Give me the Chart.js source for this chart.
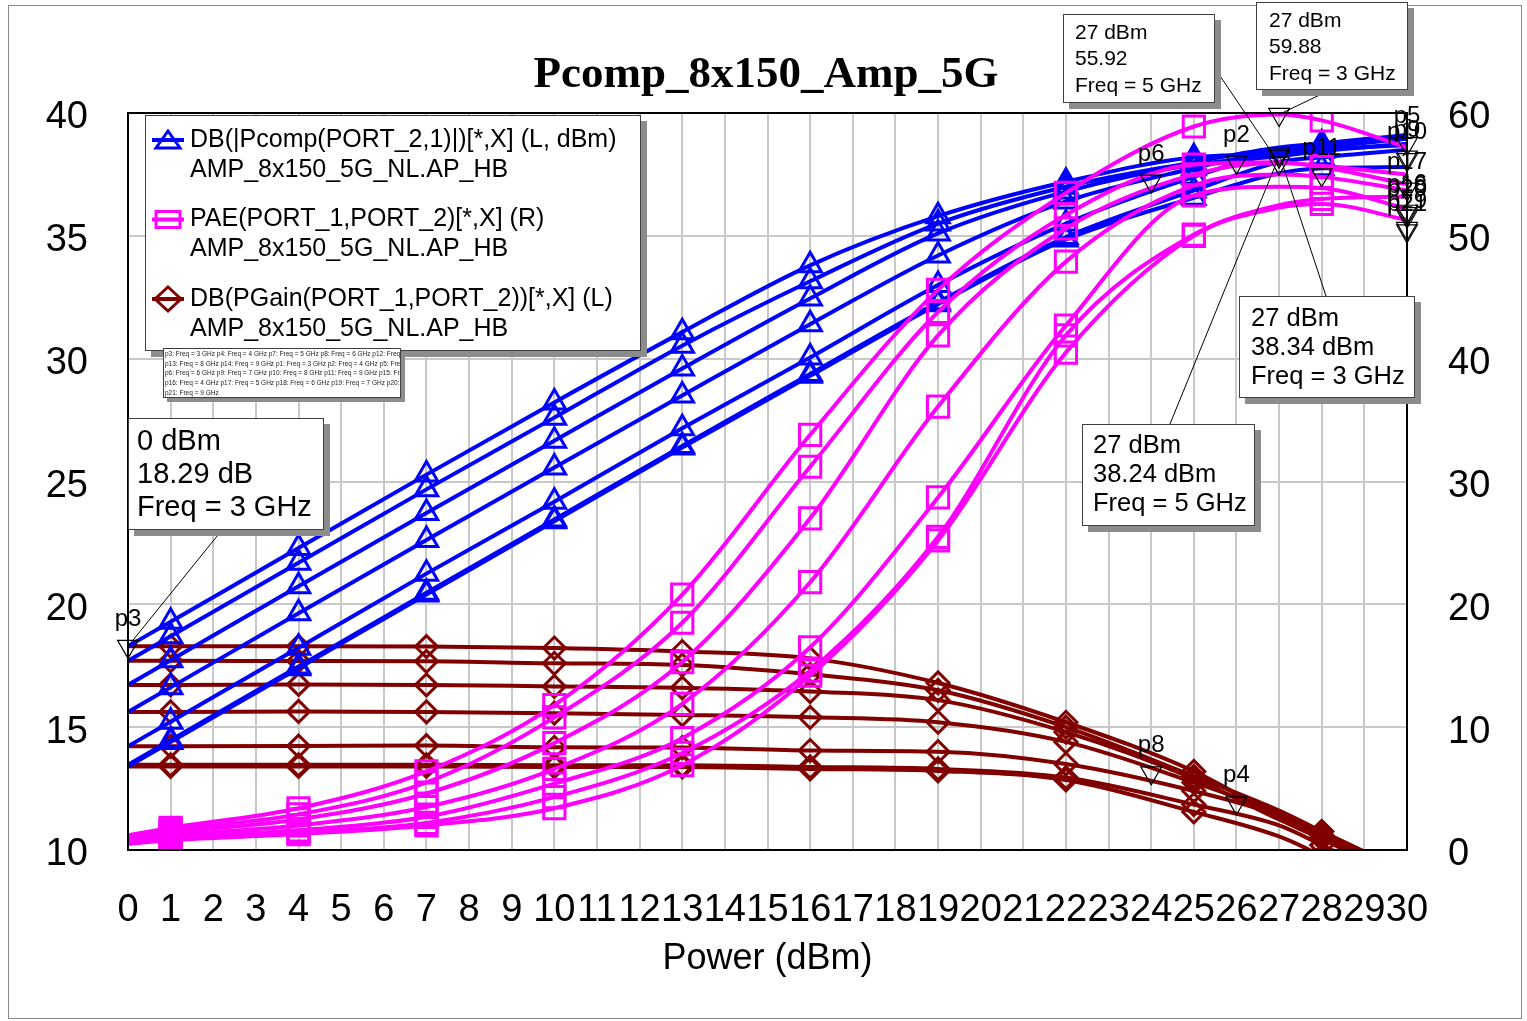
<!DOCTYPE html>
<html>
<head>
<meta charset="utf-8">
<title>Pcomp_8x150_Amp_5G</title>
<script src="https://cdn.jsdelivr.net/npm/chart.js@4.4.1/dist/chart.umd.min.js"></script>
<style>
  html, body { margin: 0; padding: 0; background: #ffffff; }
  #wrap { position: relative; width: 1527px; height: 1021px; }
  canvas { display: block; }
</style>
</head>
<body>
<div id="wrap"><canvas id="chart" width="1527" height="1021"></canvas></div>
<script>
// ---- swept input power (dBm) and frequencies ----
const powerIn = [0, 1, 4, 7, 10, 13, 16, 19, 22, 25, 27, 28, 30];
const symbolPower = [1, 4, 7, 10, 13, 16, 19, 22, 25, 28];
const freqs = ['3 GHz', '4 GHz', '5 GHz', '6 GHz', '7 GHz', '8 GHz', '9 GHz'];

// ---- output power DB(|Pcomp|) in dBm, left axis ----
const pout3G = [18.29, 19.29, 22.29, 25.28, 28.22, 31.08, 33.80, 35.80, 37.20, 38.20, 38.34, 38.50, 38.70];
const pout4G = [17.70, 18.70, 21.69, 24.68, 27.60, 30.53, 33.15, 35.50, 37.00, 38.00, 38.60, 38.75, 39.00];
const pout5G = [16.72, 17.72, 20.74, 23.72, 26.66, 29.60, 32.45, 35.10, 36.80, 37.90, 38.24, 38.45, 38.75];
const pout6G = [15.62, 16.62, 19.64, 22.62, 25.57, 28.50, 31.40, 34.20, 36.40, 37.75, 38.50, 38.75, 39.10];
const pout7G = [14.22, 15.22, 18.23, 21.25, 24.18, 27.17, 30.05, 33.00, 35.50, 37.40, 38.40, 38.60, 38.95];
const pout8G = [13.47, 14.47, 17.47, 20.47, 23.45, 26.45, 29.38, 32.30, 34.95, 36.85, 38.00, 38.20, 38.50];
const pout9G = [13.40, 14.40, 17.40, 20.40, 23.38, 26.38, 29.30, 32.22, 34.85, 36.55, 37.55, 37.75, 37.80];

// ---- PAE in %, right axis ----
const pae3G = [1.2, 1.8, 3.4, 6.4, 11.8, 20.8, 33.8, 45.6, 53.5, 58.9, 59.88, 59.4, 57.2];
const pae4G = [1.0, 1.6, 2.9, 5.5, 10.8, 18.5, 31.2, 43.8, 51.7, 55.8, 56.0, 55.6, 54.2];
const pae5G = [0.9, 1.4, 2.5, 4.6, 8.7, 15.3, 27.0, 41.9, 50.6, 55.0, 55.92, 55.7, 55.0];
const pae6G = [0.8, 1.2, 2.0, 3.5, 6.6, 11.9, 21.8, 36.1, 47.9, 54.1, 55.0, 54.8, 53.7];
const pae7G = [0.6, 1.0, 1.6, 2.7, 5.4, 9.1, 16.5, 28.7, 42.7, 53.3, 54.0, 53.9, 52.2];
const pae8G = [0.5, 0.9, 1.4, 2.2, 4.3, 7.9, 14.6, 25.5, 41.9, 50.1, 52.5, 53.0, 53.2];
const pae9G = [0.5, 0.8, 1.3, 2.0, 3.4, 6.9, 14.2, 25.2, 40.5, 50.0, 52.3, 52.6, 51.3];

// ---- power gain DB(PGain) in dB, left axis ----
const gain3G = [18.29, 18.29, 18.29, 18.28, 18.22, 18.08, 17.80, 16.80, 15.20, 13.20, 11.34, 10.50, 8.70];
const gain4G = [17.70, 17.70, 17.69, 17.68, 17.60, 17.53, 17.15, 16.50, 15.00, 13.00, 11.60, 10.75, 9.00];
const gain5G = [16.72, 16.72, 16.74, 16.72, 16.66, 16.60, 16.45, 16.10, 14.80, 12.90, 11.24, 10.45, 8.75];
const gain6G = [15.62, 15.62, 15.64, 15.62, 15.57, 15.50, 15.40, 15.20, 14.40, 12.75, 11.50, 10.75, 9.10];
const gain7G = [14.22, 14.22, 14.23, 14.25, 14.18, 14.17, 14.05, 14.00, 13.50, 12.40, 11.40, 10.60, 8.95];
const gain8G = [13.47, 13.47, 13.47, 13.47, 13.45, 13.45, 13.38, 13.30, 12.95, 11.85, 11.00, 10.20, 8.50];
const gain9G = [13.40, 13.40, 13.40, 13.40, 13.38, 13.38, 13.30, 13.22, 12.85, 11.55, 10.55, 9.75, 7.80];

// ---- markers ----
const gainMarkX = [0, 24, 26];
const gainMarkVal = [18.29, 13.14, 11.92];
const gainMarkName = ['p3', 'p8', 'p4'];
const poutMarkX = [26, 24, 28, 30, 30, 30];
const poutMarkVal = [38.0, 37.23, 37.48, 38.75, 38.2, 38.1];
const poutMarkName = ['p2', 'p6', 'p11', 'p5', 'p9', 'p10'];
const paeMarkX = [30, 30, 30, 30, 30, 30];
const paeMarkVal = [53.8, 52.0, 51.8, 51.6, 50.6, 50.4];
const paeMarkName = ['p17', 'p16', 'p18', 'p20', 'p19', 'p21'];
// readouts shown in boxes
const poutReadX = [27, 27];
const poutReadVal = [38.34, 38.24];
const poutReadFreq = ['3 GHz', '5 GHz'];
const paeReadX = [27, 27];
const paeReadVal = [59.88, 55.92];
const paeReadFreq = ['3 GHz', '5 GHz'];

// ---- axes ----
const xTicks = { min: 0, max: 30, step: 1 };
const leftTicks = { min: 10, max: 40, step: 5 };
const rightTicks = { min: 0, max: 60, step: 10 };

const TITLE = 'Pcomp_8x150_Amp_5G';
const FONT = "'Liberation Sans', Arial, Helvetica, sans-serif";
const SERIF = "'Liberation Serif', 'Times New Roman', Times, serif";
const BLUE = '#0000ff', MAGENTA = '#ff00ff', MAROON = '#800000';

const legendRows = [
  { color: BLUE, symbol: 'triangle', lines: ['DB(|Pcomp(PORT_2,1)|)[*,X] (L, dBm)', 'AMP_8x150_5G_NL.AP_HB'] },
  { color: MAGENTA, symbol: 'rect', lines: ['PAE(PORT_1,PORT_2)[*,X] (R)', 'AMP_8x150_5G_NL.AP_HB'] },
  { color: MAROON, symbol: 'diamond', lines: ['DB(PGain(PORT_1,PORT_2))[*,X] (L)', 'AMP_8x150_5G_NL.AP_HB'] }
];
const markerListLines = [
  'p3: Freq = 3 GHz p4: Freq = 4 GHz p7: Freq = 5 GHz p8: Freq = 6 GHz p12: Freq = 7 GHz',
  'p13: Freq = 8 GHz p14: Freq = 9 GHz p1: Freq = 3 GHz p2: Freq = 4 GHz p5: Freq = 5 GHz',
  'p6: Freq = 6 GHz p9: Freq = 7 GHz p10: Freq = 8 GHz p11: Freq = 9 GHz p15: Freq = 3 GHz',
  'p16: Freq = 4 GHz p17: Freq = 5 GHz p18: Freq = 6 GHz p19: Freq = 7 GHz p20: Freq = 8 GHz',
  'p21: Freq = 9 GHz'
];

function series(vals) { return powerIn.map((x, i) => ({ x: x, y: vals[i] })); }
function points(xs, ys) { return xs.map((x, i) => ({ x: x, y: ys[i] })); }
function symbolRadius(r) {
  return ctx => (ctx.raw && symbolPower.includes(ctx.raw.x)) ? r : 0;
}

const datasets = [];

function markerSet(id, xs, ys, names, axis) {
  return {
    label: id, markerId: id, markerNames: names,
    data: points(xs, ys), yAxisID: axis, showLine: false,
    pointStyle: 'triangle', pointRotation: 180, pointRadius: 12,
    pointBorderColor: '#000000', pointBorderWidth: 1.2,
    pointBackgroundColor: 'rgba(0,0,0,0)', clip: false, order: 0
  };
}
datasets.push(markerSet('gainMarks', gainMarkX, gainMarkVal, gainMarkName, 'y'));
datasets.push(markerSet('poutMarks', poutMarkX, poutMarkVal, poutMarkName, 'y'));
datasets.push(markerSet('paeMarks', paeMarkX, paeMarkVal, paeMarkName, 'y2'));
datasets.push(markerSet('poutRead', poutReadX, poutReadVal, null, 'y'));
datasets.push(markerSet('paeRead', paeReadX, paeReadVal, null, 'y2'));

function curve(label, vals, color, style, r, axis, order) {
  return {
    label: label, data: series(vals), yAxisID: axis,
    borderColor: color, borderWidth: 4, fill: false,
    cubicInterpolationMode: 'monotone',
    pointStyle: style, pointRadius: symbolRadius(r),
    pointBorderColor: color, pointBorderWidth: 3,
    pointBackgroundColor: 'rgba(0,0,0,0)', order: order
  };
}
[pae3G, pae4G, pae5G, pae6G, pae7G, pae8G, pae9G].forEach((v, i) =>
  datasets.push(curve('PAE ' + freqs[i], v, MAGENTA, 'rect', 15, 'y2', 1)));
[pout3G, pout4G, pout5G, pout6G, pout7G, pout8G, pout9G].forEach((v, i) =>
  datasets.push(curve('Pcomp ' + freqs[i], v, BLUE, 'triangle', 13, 'y', 2)));
[gain3G, gain4G, gain5G, gain6G, gain7G, gain8G, gain9G].forEach((v, i) =>
  datasets.push(curve('PGain ' + freqs[i], v, MAROON, 'rectRot', 11, 'y', 3)));

// readout boxes: layout + which marker point they describe
const callouts = [
  { set: 'gainMarks', idx: 0, freq: '3 GHz', unit: ' dB', box: [128, 418, 196, 112], font: 29, tx: 137, first: 24, gap: 33, from: [222, 530] },
  { set: 'paeRead', idx: 1, freq: paeReadFreq[1], unit: '', box: [1063, 14, 152, 89], font: 21, tx: 1075, first: 19, gap: 26.5, from: [1216, 70] },
  { set: 'paeRead', idx: 0, freq: paeReadFreq[0], unit: '', box: [1256, 2, 152, 88], font: 21, tx: 1269, first: 19, gap: 26.5, from: [1330, 90] },
  { set: 'poutRead', idx: 0, freq: poutReadFreq[0], unit: ' dBm', box: [1239, 296, 176, 102], font: 25.5, tx: 1251, first: 23, gap: 29, from: [1326, 296] },
  { set: 'poutRead', idx: 1, freq: poutReadFreq[1], unit: ' dBm', box: [1082, 424, 173, 102], font: 25.5, tx: 1093, first: 22, gap: 29, from: [1170, 424] }
];

function shadowBox(c, x, y, w, h, off) {
  c.fillStyle = '#8c8c8c';
  c.fillRect(x + off, y + off, w, h);
  c.fillStyle = '#ffffff';
  c.fillRect(x, y, w, h);
  c.strokeStyle = '#404040';
  c.lineWidth = 1;
  c.strokeRect(x + 0.5, y + 0.5, w - 1, h - 1);
}

function legendSymbol(c, kind, color, cx, cy) {
  c.strokeStyle = color;
  c.lineWidth = 4;
  c.beginPath(); c.moveTo(cx - 16, cy); c.lineTo(cx + 16, cy); c.stroke();
  c.lineWidth = 3;
  c.beginPath();
  if (kind === 'triangle') {
    c.moveTo(cx, cy - 9); c.lineTo(cx + 12, cy + 8); c.lineTo(cx - 12, cy + 8); c.closePath();
  } else if (kind === 'rect') {
    c.rect(cx - 12, cy - 8, 24, 16);
  } else {
    c.moveTo(cx, cy - 12); c.lineTo(cx + 13, cy); c.lineTo(cx, cy + 12); c.lineTo(cx - 13, cy); c.closePath();
  }
  c.stroke();
}

const overlay = {
  id: 'overlay',
  beforeDraw(chart) {
    const c = chart.ctx;
    c.save();
    c.fillStyle = '#ffffff';
    c.fillRect(0, 0, chart.width, chart.height);
    c.strokeStyle = '#8a8a8a';
    c.lineWidth = 1;
    c.strokeRect(8.5, 5.5, 1513, 1013);
    c.restore();
  },
  afterDatasetsDraw(chart) {
    const c = chart.ctx;
    const a = chart.chartArea;
    c.save();

    // plot frame
    c.strokeStyle = '#000000';
    c.lineWidth = 2;
    c.strokeRect(a.left, a.top, a.right - a.left, a.bottom - a.top);

    // marker names above the triangles
    c.fillStyle = '#000000';
    c.font = '24px ' + FONT;
    c.textAlign = 'center';
    c.textBaseline = 'middle';
    const metaById = {};
    chart.data.datasets.forEach((ds, di) => {
      if (!ds.markerId) return;
      const meta = chart.getDatasetMeta(di);
      metaById[ds.markerId] = { ds: ds, meta: meta };
      if (!ds.markerNames) return;
      meta.data.forEach((pt, j) => c.fillText(ds.markerNames[j], pt.x, pt.y - 27));
    });

    // readout boxes with leader lines
    callouts.forEach(co => {
      const m = metaById[co.set];
      const pt = m.meta.data[co.idx];
      const raw = m.ds.data[co.idx];
      c.strokeStyle = '#000000';
      c.lineWidth = 1;
      c.beginPath(); c.moveTo(co.from[0], co.from[1]); c.lineTo(pt.x, pt.y); c.stroke();
      const [bx, by, bw, bh] = co.box;
      shadowBox(c, bx, by, bw, bh, 6);
      c.fillStyle = '#000000';
      c.font = co.font + 'px ' + FONT;
      c.textAlign = 'left';
      c.textBaseline = 'middle';
      const lines = [raw.x + ' dBm', raw.y.toFixed(2) + co.unit, 'Freq = ' + co.freq];
      lines.forEach((t, i) => c.fillText(t, co.tx, by + co.first + i * co.gap));
    });

    // legend
    shadowBox(c, 145, 115, 496, 236, 6);
    legendRows.forEach((row, i) => {
      const y = 140 + i * 79.5;
      legendSymbol(c, row.symbol, row.color, 168, y);
      c.fillStyle = '#000000';
      c.font = '25px ' + FONT;
      c.textAlign = 'left';
      c.textBaseline = 'middle';
      c.fillText(row.lines[0], 190, y);
      c.fillText(row.lines[1], 190, y + 30);
    });

    // marker list
    shadowBox(c, 163, 348, 238, 50, 4);
    c.save();
    c.beginPath(); c.rect(164, 349, 236, 48); c.clip();
    c.fillStyle = '#222222';
    c.font = '6.5px ' + FONT;
    c.textAlign = 'left';
    c.textBaseline = 'middle';
    markerListLines.forEach((t, i) => c.fillText(t, 165, 354 + i * 9.8));
    c.restore();

    // title
    c.fillStyle = '#000000';
    c.font = 'bold 45px ' + SERIF;
    c.textAlign = 'center';
    c.textBaseline = 'middle';
    c.fillText(TITLE, 766, 75);

    c.restore();
  }
};

const tickFont = { family: FONT, size: 38 };

new Chart(document.getElementById('chart'), {
  type: 'line',
  data: { datasets: datasets },
  options: {
    responsive: false,
    devicePixelRatio: 1,
    animation: false,
    events: [],
    layout: { padding: { top: 113, left: 0, right: 0, bottom: 0 } },
    plugins: { legend: { display: false }, title: { display: false }, tooltip: { enabled: false } },
    scales: {
      x: {
        type: 'linear', position: 'bottom', min: xTicks.min, max: xTicks.max,
        ticks: { stepSize: xTicks.step, autoSkip: false, maxRotation: 0, minRotation: 0, padding: 38, color: '#000000', font: tickFont },
        grid: { color: '#c8c8c8', lineWidth: 2, drawTicks: false },
        border: { display: false },
        title: { display: true, text: 'Power (dBm)', color: '#000000', font: { family: FONT, size: 36 }, padding: { top: 0, bottom: 40 } },
        afterFit(s) { s.height = 171; }
      },
      y: {
        position: 'left', min: leftTicks.min, max: leftTicks.max,
        ticks: { stepSize: leftTicks.step, padding: 40, labelOffset: 5, color: '#000000', font: tickFont },
        grid: { color: '#c8c8c8', lineWidth: 2, drawTicks: false },
        border: { display: false },
        afterFit(s) { s.width = 128; }
      },
      y2: {
        position: 'right', min: rightTicks.min, max: rightTicks.max,
        ticks: { stepSize: rightTicks.step, padding: 41, labelOffset: 5, color: '#000000', font: tickFont },
        grid: { display: false, drawTicks: false },
        border: { display: false },
        afterFit(s) { s.width = 120; }
      }
    }
  },
  plugins: [overlay]
});
</script>
</body>
</html>
